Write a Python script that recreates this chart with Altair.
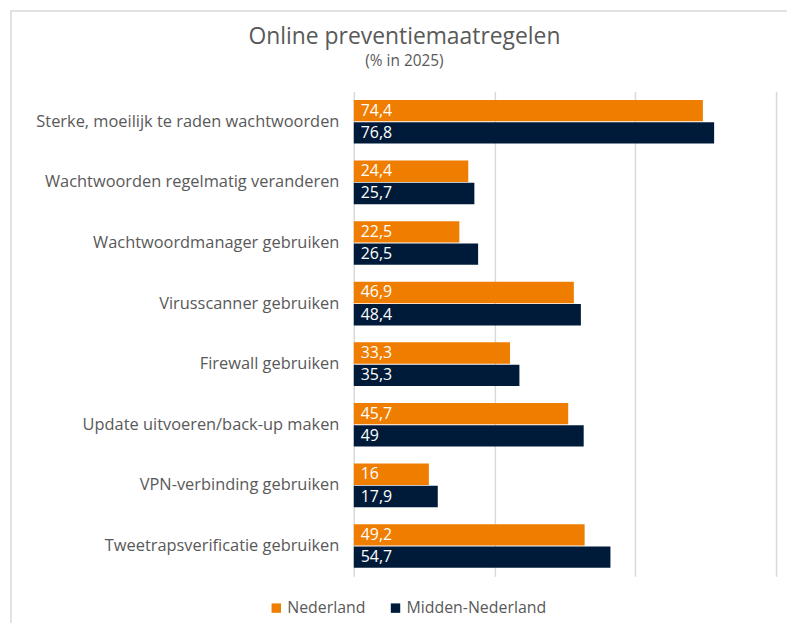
import altair as alt
import pandas as pd

categories = [
    "Sterke, moeilijk te raden wachtwoorden",
    "Wachtwoorden regelmatig veranderen",
    "Wachtwoordmanager gebruiken",
    "Virusscanner gebruiken",
    "Firewall gebruiken",
    "Update uitvoeren/back-up maken",
    "VPN-verbinding gebruiken",
    "Tweetrapsverificatie gebruiken",
]
nederland = [74.4, 24.4, 22.5, 46.9, 33.3, 45.7, 16, 49.2]
midden_nederland = [76.8, 25.7, 26.5, 48.4, 35.3, 49, 17.9, 54.7]
series = ["Nederland", "Midden-Nederland"]
colors = ["#EF7D00", "#001B39"]
x_ticks = [0, 30, 60, 90]

rows = []
for c, a, b in zip(categories, nederland, midden_nederland):
    rows.append({"categorie": c, "regio": series[0], "waarde": a})
    rows.append({"categorie": c, "regio": series[1], "waarde": b})
df = pd.DataFrame(rows)

FONT = "Open Sans"
GRAY = "#595959"

y_enc = alt.Y(
    "categorie:N", sort=categories, title=None,
    scale=alt.Scale(paddingInner=0.28, paddingOuter=0.14),
    axis=alt.Axis(labelFontSize=16.5, labelColor=GRAY, labelFont=FONT, ticks=False,
                  domain=False, labelPadding=15, labelLimit=400, grid=False),
)
yoff = alt.YOffset("regio:N", sort=series, scale=alt.Scale(paddingInner=0.04))
x_enc = alt.X(
    "waarde:Q", title=None, scale=alt.Scale(domain=[0, 90]),
    axis=alt.Axis(values=x_ticks, labels=False, ticks=False, domain=False, grid=True,
                  gridColor="#d9d9d9", gridWidth=1.5),
)

bars = alt.Chart(df).mark_bar().encode(
    x=x_enc, y=y_enc, yOffset=yoff,
    color=alt.Color(
        "regio:N", sort=series,
        scale=alt.Scale(domain=series, range=colors),
        legend=alt.Legend(title=None, orient="none", legendX=-86, legendY=512,
                          direction="horizontal", symbolType="square", symbolSize=90,
                          symbolStrokeWidth=0, labelFontSize=16, labelColor=GRAY,
                          labelFont=FONT, columnPadding=22, labelOffset=3),
    ),
)

labels = alt.Chart(df).transform_calculate(
    label="replace(toString(datum.waarde), '.', ',')"
).mark_text(align="left", baseline="middle", dx=7, color="white", fontSize=16, font=FONT).encode(
    x=alt.datum(0), y=y_enc, yOffset=yoff, text="label:N"
)

frame = alt.Chart(alt.Data(values=[{}])).mark_rect(
    fillOpacity=0, stroke="#d9d9d9", strokeWidth=1.5
).encode(x=alt.value(-345), x2=alt.value(447), y=alt.value(-81), y2=alt.value(560))

chart = alt.layer(frame, bars, labels).properties(
    width=425, height=488,
    autosize="none",
    padding={"left": 348, "top": 82, "right": 11, "bottom": 45},
    title=alt.TitleParams(
        "Online preventiemaatregelen", subtitle="(% in 2025)",
        anchor="middle", frame="bounds", offset=-60,
        fontSize=23, subtitleFontSize=15.5, color=GRAY, subtitleColor=GRAY,
        font=FONT, subtitleFont=FONT, fontWeight="normal", subtitlePadding=5,
    ),
).configure_view(stroke=None)

chart.save("out.html", embed_options={"renderer": "svg", "actions": False})
